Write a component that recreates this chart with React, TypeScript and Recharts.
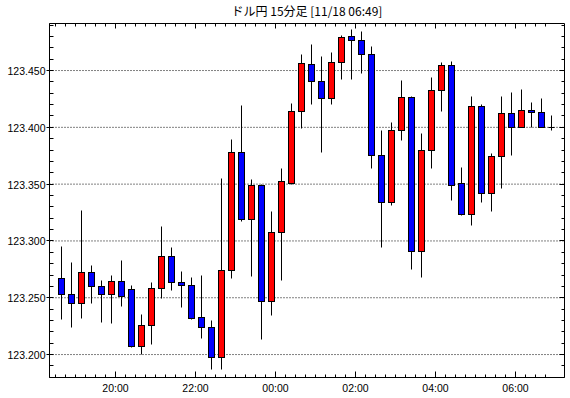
import React from 'react';
import { ComposedChart, Bar, XAxis, YAxis, CartesianGrid } from 'recharts';

const times = [
  '18:30', '18:45', '19:00', '19:15', '19:30', '19:45', '20:00', '20:15', '20:30', '20:45',
  '21:00', '21:15', '21:30', '21:45', '22:00', '22:15', '22:30', '22:45', '23:00', '23:15',
  '23:30', '23:45', '00:00', '00:15', '00:30', '00:45', '01:00', '01:15', '01:30', '01:45',
  '02:00', '02:15', '02:30', '02:45', '03:00', '03:15', '03:30', '03:45', '04:00', '04:15',
  '04:30', '04:45', '05:00', '05:15', '05:30', '05:45', '06:00', '06:15', '06:30', '06:45',
];

const opens = [
  123.267, 123.253, 123.245, 123.272, 123.260, 123.253, 123.264, 123.257, 123.207, 123.226,
  123.258, 123.286, 123.263, 123.261, 123.233, 123.224, 123.197, 123.274, 123.378, 123.319,
  123.349, 123.247, 123.307, 123.351, 123.414, 123.455, 123.440, 123.425, 123.457, 123.480,
  123.476, 123.464, 123.375, 123.334, 123.397, 123.426, 123.291, 123.380, 123.432, 123.454,
  123.351, 123.323, 123.418, 123.342, 123.374, 123.412, 123.400, 123.415, 123.413, 123.400,
];

const highs = [
  123.295, 123.281, 123.327, 123.278, 123.265, 123.270, 123.283, 123.261, 123.235, 123.263,
  123.313, 123.294, 123.273, 123.268, 123.270, 123.230, 123.355, 123.389, 123.419, 123.354,
  123.350, 123.326, 123.364, 123.421, 123.464, 123.473, 123.462, 123.466, 123.481, 123.486,
  123.484, 123.471, 123.397, 123.404, 123.441, 123.427, 123.395, 123.444, 123.457, 123.458,
  123.365, 123.427, 123.420, 123.377, 123.427, 123.431, 123.433, 123.422, 123.425, 123.410,
];

const lows = [
  123.231, 123.224, 123.232, 123.245, 123.228, 123.227, 123.242, 123.206, 123.200, 123.209,
  123.249, 123.256, 123.241, 123.231, 123.214, 123.187, 123.187, 123.267, 123.317, 123.269,
  123.213, 123.234, 123.265, 123.350, 123.399, 123.420, 123.378, 123.420, 123.442, 123.442,
  123.447, 123.364, 123.294, 123.331, 123.388, 123.275, 123.268, 123.364, 123.414, 123.336,
  123.322, 123.314, 123.334, 123.326, 123.346, 123.375, 123.400, 123.400, 123.400, 123.397,
];

const closes = [
  123.253, 123.245, 123.272, 123.260, 123.253, 123.264, 123.251, 123.207, 123.226, 123.258,
  123.286, 123.263, 123.261, 123.232, 123.224, 123.197, 123.274, 123.378, 123.319, 123.349,
  123.247, 123.307, 123.352, 123.414, 123.456, 123.440, 123.425, 123.457, 123.479, 123.476,
  123.464, 123.375, 123.334, 123.397, 123.426, 123.291, 123.380, 123.432, 123.454, 123.349,
  123.323, 123.418, 123.342, 123.374, 123.412, 123.400, 123.415, 123.413, 123.400, 123.400,
];

const xTickLabels = ['20:00', '22:00', '00:00', '02:00', '04:00', '06:00'];
const yGridValues = [123.2, 123.25, 123.3, 123.35, 123.4, 123.45];
const yDomain: [number, number] = [123.1798, 123.4914];
const titleText = 'ドル円 15分足 [11/18 06:49]';

const data = times.map((t, i) => ({
  time: t,
  open: opens[i],
  high: highs[i],
  low: lows[i],
  close: closes[i],
  range: [lows[i], highs[i]],
}));

const minorY: number[] = [];
for (let k = 12318; k <= 12349; k++) minorY.push(k / 100);

const isMajorY = (v: number) => yGridValues.some((g) => Math.abs(g - v) < 1e-6);

const LABEL_FONT = '"Liberation Sans", Arial, sans-serif';

const snap = (c: number) => Math.floor(c) + 0.5;

const Candle = (props: any) => {
  const { x, y, width, height, payload } = props;
  if (!payload || height == null || isNaN(y)) return null;
  const { open, close, high, low } = payload;
  const top = Math.min(y, y + height);
  const h = Math.abs(height);
  const k = h / (high - low);
  const yOf = (v: number) => top + (high - v) * k;
  const cx = Math.floor(x + width / 2) + 0.5;
  const yHigh = snap(yOf(high));
  const yLow = snap(yOf(low));
  const elements: React.ReactNode[] = [
    <line key="w" x1={cx} x2={cx} y1={yHigh} y2={yLow} stroke="#000" strokeWidth={1} />,
  ];
  if (open === close) {
    const yy = snap(yOf(open));
    elements.push(<line key="d" x1={cx - 3} x2={cx + 3} y1={yy} y2={yy} stroke="#000" strokeWidth={1} />);
  } else {
    const yT = snap(yOf(Math.max(open, close)));
    const yB = snap(yOf(Math.min(open, close)));
    elements.push(
      <rect
        key="b"
        x={cx - 3}
        y={yT}
        width={6}
        height={Math.max(1, yB - yT)}
        fill={close > open ? '#ff0000' : '#0000ff'}
        stroke="#000"
        strokeWidth={1}
      />
    );
  }
  return <g>{elements}</g>;
};

const BottomTick = (props: any) => {
  const { x, y, payload } = props;
  const label = payload.value as string;
  const major = xTickLabels.includes(label);
  const bx = snap(x - 5);
  const by = Math.round(y) - 0.5;
  return (
    <g>
      <line x1={bx} x2={bx} y1={y} y2={y - (major ? 6 : 3)} stroke="#000" strokeWidth={1} />
      {major && (
        <text x={x - 5} y={by + 14} textAnchor="middle" fontSize={10.5} fontFamily={LABEL_FONT} fill="#000">
          {label}
        </text>
      )}
    </g>
  );
};

const TopTick = (props: any) => {
  const { x, y, payload } = props;
  const label = payload.value as string;
  const major = xTickLabels.includes(label);
  const bx = snap(x - 5);
  return <line x1={bx} x2={bx} y1={y} y2={y + (major ? 5 : 3)} stroke="#000" strokeWidth={1} />;
};

const LeftTick = (props: any) => {
  const { x, y, payload } = props;
  const v = payload.value as number;
  const major = isMajorY(v);
  const yy = snap(y);
  return (
    <g>
      <line x1={major ? x - 3 : x} x2={x + 4} y1={yy} y2={yy} stroke="#000" strokeWidth={1} />
      {major && (
        <text x={x - 4} y={yy + 4} textAnchor="end" fontSize={10.5} fontFamily={LABEL_FONT} fill="#000">
          {v.toFixed(3)}
        </text>
      )}
    </g>
  );
};

const RightTick = (props: any) => {
  const { x, y, payload } = props;
  const v = payload.value as number;
  const major = isMajorY(v);
  const yy = snap(y);
  return <line x1={x} x2={x - (major ? 5 : 3)} y1={yy} y2={yy} stroke="#000" strokeWidth={1} />;
};

export default function App() {
  return (
    <div style={{ position: 'absolute', left: 0, top: 0, width: 570, height: 398, background: '#fff' }}>
      <ComposedChart width={570} height={398} data={data} margin={{ top: 0, right: 0, bottom: 0, left: 0 }}>
        <XAxis
          dataKey="time"
          xAxisId="b"
          orientation="bottom"
          height={20.5}
          padding={{ left: 6, right: 9 }}
          tickSize={0}
          tickMargin={0}
          interval={0}
          tickLine={false}
          axisLine={{ stroke: '#000' }}
          tick={(p: any) => <BottomTick {...p} />}
        />
        <XAxis
          dataKey="time"
          xAxisId="t"
          orientation="top"
          height={23.5}
          padding={{ left: 6, right: 9 }}
          tickSize={0}
          tickMargin={0}
          interval={0}
          tickLine={false}
          axisLine={{ stroke: '#000' }}
          tick={(p: any) => <TopTick {...p} />}
        />
        <YAxis
          yAxisId="l"
          orientation="left"
          width={49.5}
          type="number"
          domain={yDomain}
          ticks={minorY}
          interval={0}
          allowDataOverflow
          tickSize={0}
          tickMargin={0}
          tickLine={false}
          axisLine={{ stroke: '#000' }}
          tick={(p: any) => <LeftTick {...p} />}
        />
        <YAxis
          yAxisId="r"
          orientation="right"
          width={5.5}
          type="number"
          domain={yDomain}
          ticks={minorY}
          interval={0}
          allowDataOverflow
          tickSize={0}
          tickMargin={0}
          tickLine={false}
          axisLine={{ stroke: '#000' }}
          tick={(p: any) => <RightTick {...p} />}
        />
        <YAxis
          yAxisId="g"
          orientation="right"
          width={0}
          hide
          type="number"
          domain={yDomain}
          ticks={yGridValues}
          interval={0}
          allowDataOverflow
        />
        <CartesianGrid
          xAxisId="b"
          yAxisId="g"
          vertical={false}
          horizontal
          stroke="#000"
          strokeWidth={1}
          strokeDasharray="1 2"
        />
        <Bar dataKey="range" xAxisId="b" yAxisId="l" barSize={7} shape={(p: any) => <Candle {...p} />} isAnimationActive={false} />
      </ComposedChart>
      <div
        style={{
          position: 'absolute',
          left: 49,
          top: 3,
          width: 516,
          textAlign: 'center',
          fontFamily: '"Noto Sans CJK JP", sans-serif',
          fontSize: 12,
          lineHeight: '16px',
          color: '#000',
        }}
      >
        {titleText}
      </div>
    </div>
  );
}
